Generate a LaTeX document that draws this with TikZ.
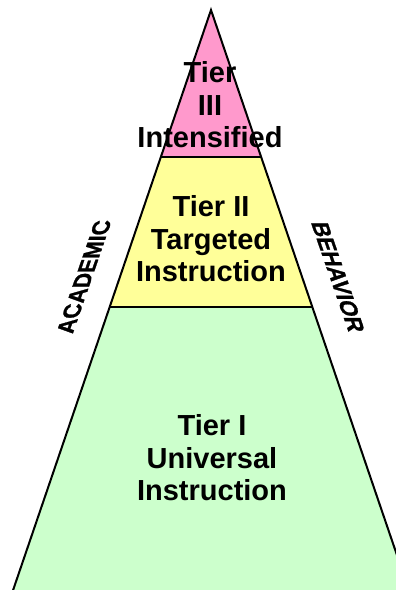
\documentclass[tikz,border=0pt]{standalone}
\usepackage{fontspec}
\setmainfont{Liberation Sans}
\newfontfamily\sidefont{Liberation Sans}[UprightFont=*-Bold,FakeBold=1.2]
\definecolor{tierpink}{HTML}{FF99CC}
\definecolor{tieryellow}{HTML}{FFFF99}
\definecolor{tiergreen}{HTML}{CCFFCC}
\begin{document}
\begin{tikzpicture}[x=1pt,y=-1pt,
  tierline/.style={draw=black,line width=2pt,line join=miter},
  tiertext/.style={inner sep=0pt,align=center,font=\bfseries\fontsize{29}{32.5}\selectfont},
  sidetext/.style={inner sep=0pt,font=\sidefont\fontsize{24}{26}\selectfont}]
\useasboundingbox (0,0) rectangle (396,590);
\clip (0,0) rectangle (396,590);
% coordinates
\coordinate (apex) at (211,10);
\coordinate (l2) at (160.8,157);
\coordinate (r2) at (261.2,157);
\coordinate (l1) at (109.7,307);
\coordinate (r1) at (312.3,307);
\coordinate (l0) at (6.3,610);
\coordinate (r0) at (415.7,610);
% fills
\fill[tiergreen] (l1) -- (r1) -- (r0) -- (l0) -- cycle;
\fill[tieryellow] (l2) -- (r2) -- (r1) -- (l1) -- cycle;
\fill[tierpink] (apex) -- (r2) -- (l2) -- cycle;
% outlines
\draw[tierline] (l0) -- (apex) -- (r0);
\draw[tierline] (l2) -- (r2);
\draw[tierline] (l1) -- (r1);
% texts
\node[tiertext] (t3) at (210,105) {Tier\\III\\Intensified};
\node[tiertext] (t2) at (211,239) {Tier II\\Targeted\\Instruction};
\node[tiertext] (t1) at (212,458) {Tier I\\Universal\\Instruction};
\node[sidetext,rotate=90,yslant=-0.344,xscale=0.88] (acad) at (84,277) {ACADEMIC};
\node[sidetext,rotate=-90,yslant=0.344,xscale=0.88] (behav) at (338,277) {BEHAVIOR};
\end{tikzpicture}
\end{document}
